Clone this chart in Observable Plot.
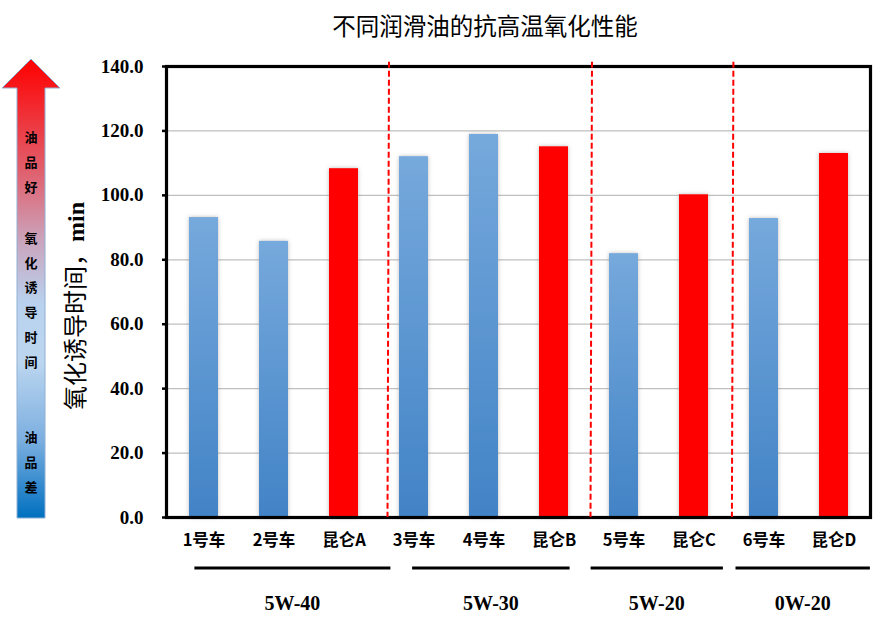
<!DOCTYPE html>
<html><head><meta charset="utf-8">
<script src="https://cdn.jsdelivr.net/npm/d3@7"></script>
<script src="https://cdn.jsdelivr.net/npm/@observablehq/plot@0.6"></script>
<style>body{margin:0;background:#fff} svg{display:block}</style>
</head><body><div id="chart"></div>
<script>
const categories = ["1号车","2号车","昆仑A","3号车","4号车","昆仑B","5号车","昆仑C","6号车","昆仑D"];
const values = [93.1, 85.7, 108.3, 112.0, 118.9, 115.1, 81.9, 100.2, 92.8, 113.0];
const kinds = ["对比","对比","昆仑","对比","对比","昆仑","对比","昆仑","对比","昆仑"];
const groupNames = ["5W-40","5W-30","5W-20","0W-20"];
const groupFirst = ["1号车","3号车","5号车","6号车"];
const groupLast = ["昆仑A","昆仑B","昆仑C","昆仑D"];
const dividers = ["3号车","5号车","6号车"];
const yTicks = [0,20,40,60,80,100,120,140];
const gridTicks = [20,40,60,80,100,120];
const title = "不同润滑油的抗高温氧化性能";
const yLabel = "氧化诱导时间，";
const yUnit = "min";
const arrowGood = ["油","品","好"];
const arrowMid = ["氧","化","诱","导","时","间"];
const arrowBad = ["油","品","差"];

const data = categories.map((c,i)=>({name:c, value:values[i], kind:kinds[i]}));

const serif = "'Liberation Serif','DejaVu Serif',serif";
const cjk = "'Noto Sans CJK SC','Noto Sans',sans-serif";

const plot = Plot.plot({
  width: 885, height: 624,
  marginLeft: 166, marginRight: 15, marginTop: 66, marginBottom: 107,
  x: {domain: categories, paddingInner: 0.59, paddingOuter: 0.295, label: null},
  y: {domain: [0,140], label: null},
  marks: [
    Plot.ruleY(gridTicks, {stroke: "#bfbfbf", strokeWidth: 1.3}),
    Plot.barY(data, {x: "name", y: "value",
      fill: d => d.kind === "昆仑" ? "#ff0000" : "url(#blueGrad)"}),
    Plot.axisY(yTicks, {tickFormat: d => d.toFixed(1), tickSize: 4, tickPadding: 19,
      fontSize: 19, fontWeight: "bold", fontFamily: serif, label: null, strokeWidth: 2.5, color: "#000"}),
    Plot.axisX({tickSize: 0, tickPadding: 17, fontSize: 16.5, fontWeight: "bold", fontFamily: cjk, label: null}),
    Plot.frame({stroke: "#000", strokeWidth: 3.2}),
  ]
});

const svg = d3.select(plot);
svg.attr("font-family", cjk);
const defs = svg.insert("defs", ":first-child");
const bg = defs.append("linearGradient").attr("id","blueGrad").attr("x1",0).attr("y1",0).attr("x2",0).attr("y2",1);
bg.append("stop").attr("offset","0%").attr("stop-color","#76a9dc");
bg.append("stop").attr("offset","100%").attr("stop-color","#4283c6");
const f = defs.append("filter").attr("id","glow").attr("x","-30%").attr("y","-5%").attr("width","160%").attr("height","110%");
f.append("feDropShadow").attr("dx",0).attr("dy",0).attr("stdDeviation",2).attr("flood-color","#888").attr("flood-opacity",0.55);
const ag = defs.append("linearGradient").attr("id","arrowGrad").attr("x1",0).attr("y1",0).attr("x2",0).attr("y2",1);
[["0%","#ff0000"],["28%","#dc6e7e"],["39%","#cba2ba"],["53%","#b9d1ee"],["66%","#bcd6ef"],["83%","#7cafe0"],["100%","#0070c0"]]
  .forEach(([o,c]) => ag.append("stop").attr("offset",o).attr("stop-color",c));

svg.selectAll("g[aria-label='bar'] rect").attr("filter","url(#glow)");

const xs = plot.scale("x");
const ysc = plot.scale("y");
const bw = xs.bandwidth, step = xs.step;
const center = c => xs.apply(c) + bw/2;

// red dashed dividers
const divOffsets = [-0.35, -0.45, -0.43];
svg.append("g").selectAll("line").data(dividers).join("line")
  .attr("x1", (d,i) => center(d) + divOffsets[i]*step)
  .attr("x2", (d,i) => center(d) + divOffsets[i]*step - 1.5)
  .attr("y1", ysc.apply(141.3)).attr("y2", ysc.apply(0))
  .attr("stroke","#ff0000").attr("stroke-width",2).attr("stroke-dasharray","6,3");

// group underlines and labels
const startOff = [-0.13, -0.02, -0.47, -0.40];
const endOff = [0.67, 0.23, 0.42, 0.52];
const gg = svg.append("g");
groupNames.forEach((g,i) => {
  const x1 = center(groupFirst[i]) + startOff[i]*step;
  const x2 = center(groupLast[i]) + endOff[i]*step;
  gg.append("line").attr("x1",x1).attr("x2",x2).attr("y1",568).attr("y2",568)
    .attr("stroke","#000").attr("stroke-width",3.2);
  gg.append("text").attr("x",(x1+x2)/2).attr("y",610).attr("text-anchor","middle")
    .attr("font-family",serif).attr("font-weight","bold").attr("font-size",20).text(g);
});

// title
svg.append("text").attr("x",485).attr("y",35).attr("text-anchor","middle")
  .attr("font-family",cjk).attr("font-size",23.5).attr("fill","#000").text(title);

// y label
const yl = svg.append("text").attr("transform","translate(84,306) rotate(-90)").attr("text-anchor","middle")
  .attr("font-size",24).attr("fill","#000");
yl.append("tspan").attr("font-family",cjk).text(yLabel);
yl.append("tspan").attr("font-family",serif).attr("font-weight","bold").text(yUnit);

// arrow
const ar = svg.append("g");
ar.append("path").attr("d","M31,59 L60,88 L45,88 L45,518 L17,518 L17,88 L2,88 Z")
  .attr("fill","url(#arrowGrad)").attr("stroke","#8fb0d4").attr("stroke-width",1);
const put = (arr, ys) => arr.forEach((t,i) => ar.append("text").attr("x",31).attr("y",ys[i]+5)
  .attr("text-anchor","middle").attr("font-size",13).attr("font-weight","bold").attr("fill","#000").text(t));
put(arrowGood, [137,162,187]);
put(arrowMid, [238,263,287,312,337,362]);
put(arrowBad, [437,462,487]);

document.getElementById("chart").appendChild(plot);
</script></body></html>
